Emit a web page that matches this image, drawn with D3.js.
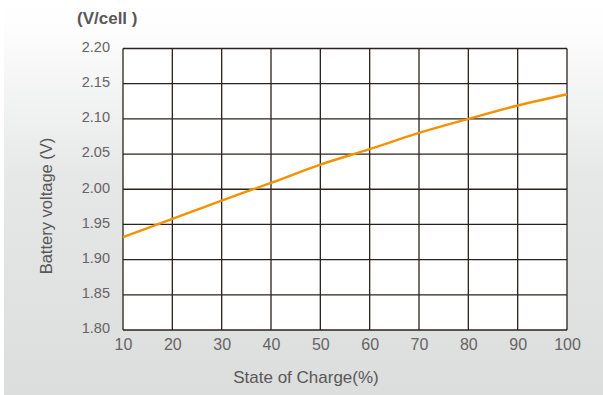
<!DOCTYPE html>
<html><head><meta charset="utf-8">
<script src="https://cdn.jsdelivr.net/npm/d3@7"></script>
<style>body{margin:0;background:#fff}svg{display:block}</style>
</head><body>
<script>
const soc = [10, 20, 30, 40, 50, 60, 70, 80, 90, 100];
const voltage = [1.932, 1.958, 1.984, 2.009, 2.035, 2.057, 2.080, 2.100, 2.119, 2.135];
const xTicks = [10, 20, 30, 40, 50, 60, 70, 80, 90, 100];
const yTicks = [1.80, 1.85, 1.90, 1.95, 2.00, 2.05, 2.10, 2.15, 2.20];

const W = 603, H = 395;
const FONT = "Liberation Sans, Arial, sans-serif";
const svg = d3.select("body").append("svg").attr("width", W).attr("height", H);
const defs = svg.append("defs");
const g = defs.append("linearGradient").attr("id","bg").attr("x1",0).attr("y1",0).attr("x2",0).attr("y2",1);
g.append("stop").attr("offset","0").attr("stop-color","#ffffff");
g.append("stop").attr("offset","0.08").attr("stop-color","#fdfdfd");
g.append("stop").attr("offset","0.45").attr("stop-color","#e6e7e7");
g.append("stop").attr("offset","1").attr("stop-color","#dcdddd");
svg.append("rect").attr("x",4).attr("y",0).attr("width",W-4).attr("height",H).attr("fill","url(#bg)");

const x = d3.scaleLinear().domain([10,100]).range([123,567]);
const y = d3.scaleLinear().domain([1.80,2.20]).range([330,48.5]);

svg.append("rect").attr("x",x(10)).attr("y",y(2.20)).attr("width",x(100)-x(10)).attr("height",y(1.80)-y(2.20)).attr("fill","#fff");

const grid = svg.append("g").attr("stroke","#2a2220").attr("stroke-width",1.3);
grid.selectAll(".vx").data(xTicks).join("line")
  .attr("x1",d=>x(d)).attr("x2",d=>x(d)).attr("y1",y(1.80)).attr("y2",y(2.20));
grid.selectAll(".hy").data(yTicks).join("line")
  .attr("y1",d=>y(d)).attr("y2",d=>y(d)).attr("x1",x(10)).attr("x2",x(100));

const xAxis = svg.append("g").attr("transform",`translate(0,${y(1.80)})`)
  .call(d3.axisBottom(x).tickValues(xTicks).tickSize(0).tickPadding(8).tickFormat(d3.format("d")));
xAxis.select(".domain").remove();
xAxis.selectAll("text").attr("font-family",FONT).attr("font-size",16).attr("fill","#666464").attr("y",20).attr("dy",0);

const yAxis = svg.append("g").attr("transform",`translate(${x(10)},0)`)
  .call(d3.axisLeft(y).tickValues(yTicks).tickSize(0).tickPadding(13).tickFormat(d3.format(".2f")));
yAxis.select(".domain").remove();
yAxis.selectAll("text").attr("font-family",FONT).attr("font-size",14.5).attr("fill","#666464").attr("dy","0.2em");

const line = d3.line().x((d,i)=>x(soc[i])).y(d=>y(d)).curve(d3.curveMonotoneX);
svg.append("path").datum(voltage).attr("d",line).attr("fill","none").attr("stroke","#f39200").attr("stroke-width",2.4);

svg.append("text").attr("x",77).attr("y",24).text("(V/cell )")
  .attr("font-family",FONT).attr("font-size",17).attr("font-weight",700).attr("fill","#595757");
svg.append("text").attr("transform","translate(52,206) rotate(-90)").attr("text-anchor","middle").text("Battery voltage (V)")
  .attr("font-family",FONT).attr("font-size",16.5).attr("fill","#595757");
svg.append("text").attr("x",306).attr("y",383).attr("text-anchor","middle").text("State of Charge(%)")
  .attr("font-family",FONT).attr("font-size",17).attr("fill","#595757");
</script>
</body></html>
